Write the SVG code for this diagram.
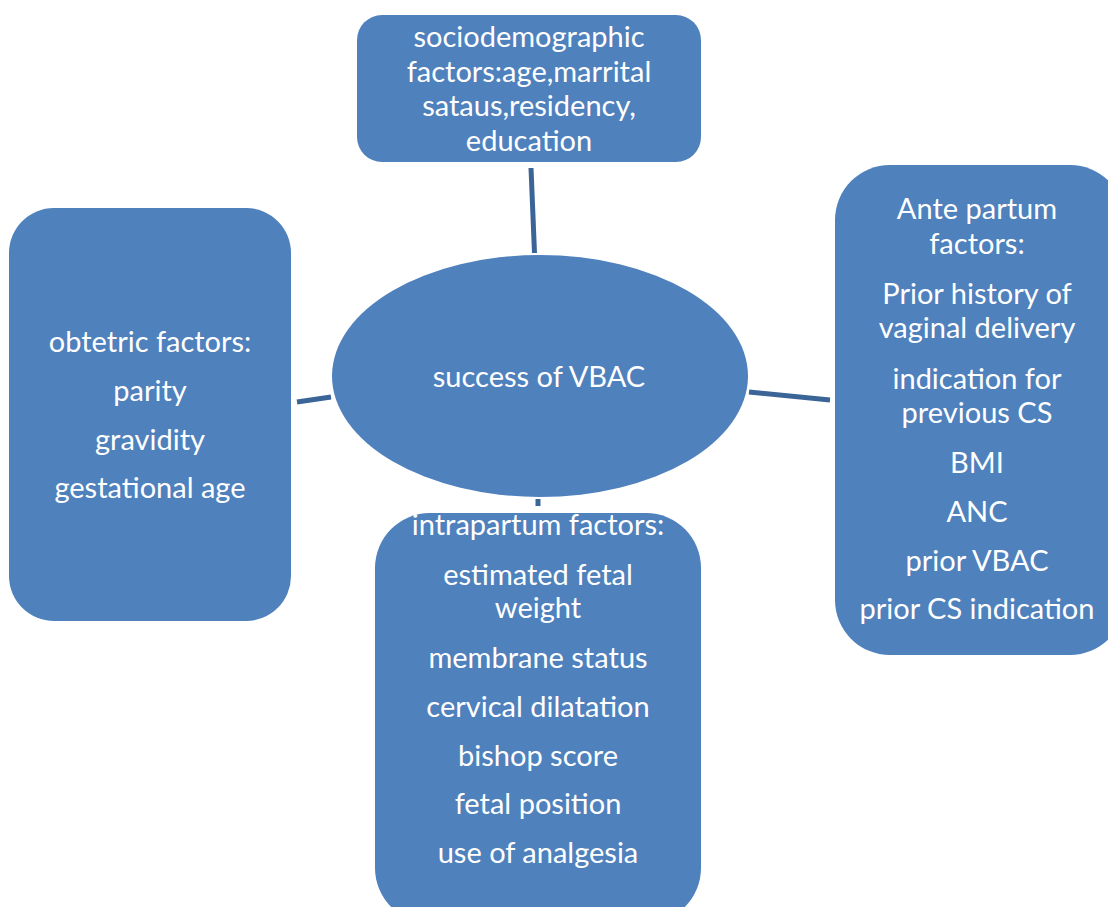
<svg xmlns="http://www.w3.org/2000/svg" width="1108" height="907" viewBox="0 0 1108 907">
<style>
.box{fill:#4F81BD;}
.t{font-family:Lato,"Liberation Sans",sans-serif;font-size:29px;fill:#FFFFFF;text-anchor:middle;}
.c{stroke:#3B6596;stroke-width:5;fill:none;}
</style>
<rect width="1108" height="907" fill="#FFFFFF"/>
<g id="connectors">
<line class="c" x1="531" y1="168" x2="534.5" y2="253"/>
<line class="c" x1="297" y1="402" x2="331" y2="397"/>
<line class="c" x1="749" y1="392" x2="830" y2="400"/>
<line class="c" x1="538" y1="499" x2="538" y2="506"/>
</g>
<g id="center">
<ellipse class="box" cx="540" cy="376" rx="208" ry="121"/>
<text class="t" x="539" y="387">success of VBAC</text>
</g>
<g id="sociodemographic">
<rect class="box" x="357" y="15" width="344" height="147" rx="25"/>
<text class="t" x="529" y="47">sociodemographic</text>
<text class="t" x="529" y="82">factors:age,marrital</text>
<text class="t" x="529" y="116">sataus,residency,</text>
<text class="t" x="529" y="151">education</text>
</g>
<g id="obstetric">
<rect class="box" x="9" y="208" width="282" height="413" rx="45"/>
<text class="t" x="150" y="352">obtetric factors:</text>
<text class="t" x="150" y="401">parity</text>
<text class="t" x="150" y="450">gravidity</text>
<text class="t" x="150" y="498">gestational age</text>
</g>
<g id="antepartum">
<rect class="box" x="835" y="165" width="290" height="490" rx="55"/>
<text class="t" x="977" y="219">Ante partum</text>
<text class="t" x="977" y="254">factors:</text>
<text class="t" x="977" y="304">Prior history of</text>
<text class="t" x="977" y="338">vaginal delivery</text>
<text class="t" x="977" y="389">indication for</text>
<text class="t" x="977" y="423">previous CS</text>
<text class="t" x="977" y="473">BMI</text>
<text class="t" x="977" y="522">ANC</text>
<text class="t" x="977" y="571">prior VBAC</text>
<text class="t" x="977" y="619">prior CS indication</text>
</g>
<g id="intrapartum">
<rect class="box" x="375" y="513" width="326" height="410" rx="55"/>
<text class="t" x="538" y="535">intrapartum factors:</text>
<text class="t" x="538" y="585">estimated fetal</text>
<text class="t" x="538" y="618">weight</text>
<text class="t" x="538" y="668">membrane status</text>
<text class="t" x="538" y="717">cervical dilatation</text>
<text class="t" x="538" y="766">bishop score</text>
<text class="t" x="538" y="814">fetal position</text>
<text class="t" x="538" y="863">use of analgesia</text>
</g>
</svg>
